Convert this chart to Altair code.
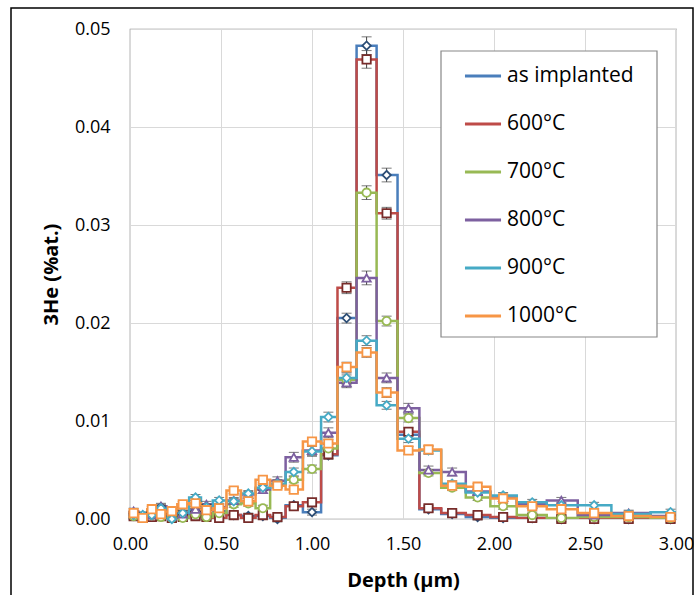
import altair as alt
import pandas as pd

# ---- data ----
series = ["as implanted", "600°C", "700°C", "800°C", "900°C", "1000°C"]

edges = [0.0, 0.045, 0.095, 0.145, 0.20, 0.26, 0.325, 0.39, 0.455, 0.53,
         0.61, 0.69, 0.77, 0.855, 0.95, 1.05, 1.14, 1.245, 1.355, 1.47,
         1.59, 1.71, 1.845, 1.98, 2.125, 2.29, 2.46, 2.645, 2.86, 3.0]

depth = [0.02, 0.07, 0.12, 0.17, 0.23, 0.29, 0.36, 0.42, 0.49, 0.57,
         0.65, 0.73, 0.81, 0.90, 1.00, 1.09, 1.19, 1.30, 1.41, 1.53,
         1.64, 1.77, 1.91, 2.05, 2.21, 2.37, 2.55, 2.74, 2.97]

as_implanted = [0.0005, 0.0003, 0.0006, 0.0012, 0.0003, 0.0006, 0.0008, 0.0012, 0.0008, 0.0004,
                0.0003, 0.0003, 0.0000, 0.0014, 0.0007, 0.0065, 0.0205, 0.0483, 0.0351, 0.0086,
                0.0010, 0.0005, 0.0002, 0.0001, 0.0001, 0.0000, 0.0000, 0.0000, 0.0000]
t600 = [0.0003, 0.0001, 0.0002, 0.0003, 0.0001, 0.0002, 0.0003, 0.0002, 0.0001, 0.0004,
        0.0001, 0.0004, 0.0002, 0.0013, 0.0017, 0.0066, 0.0236, 0.0469, 0.0312, 0.0089,
        0.0011, 0.0006, 0.0004, 0.0002, 0.0001, 0.0000, 0.0000, 0.0000, 0.0000]
t700 = [0.0003, 0.0002, 0.0004, 0.0002, 0.0001, 0.0001, 0.0005, 0.0002, 0.0006, 0.0015,
        0.0016, 0.0011, 0.0035, 0.0040, 0.0051, 0.0072, 0.0142, 0.0333, 0.0202, 0.0103,
        0.0047, 0.0032, 0.0022, 0.0013, 0.0004, 0.0001, 0.0002, 0.0002, 0.0001]
t800 = [0.0008, 0.0004, 0.0004, 0.0013, 0.0003, 0.0005, 0.0010, 0.0015, 0.0012, 0.0019,
        0.0025, 0.0030, 0.0039, 0.0063, 0.0070, 0.0088, 0.0139, 0.0246, 0.0144, 0.0113,
        0.0050, 0.0048, 0.0028, 0.0022, 0.0015, 0.0019, 0.0004, 0.0006, 0.0003]
t900 = [0.0004, 0.0004, 0.0004, 0.0011, 0.0000, 0.0006, 0.0022, 0.0012, 0.0019, 0.0018,
        0.0026, 0.0032, 0.0036, 0.0048, 0.0069, 0.0104, 0.0144, 0.0182, 0.0116, 0.0082,
        0.0070, 0.0036, 0.0027, 0.0024, 0.0017, 0.0014, 0.0014, 0.0005, 0.0007]
t1000 = [0.0006, 0.0001, 0.0010, 0.0005, 0.0008, 0.0015, 0.0016, 0.0009, 0.0011, 0.0029,
         0.0018, 0.0040, 0.0034, 0.0030, 0.0079, 0.0077, 0.0155, 0.0170, 0.0129, 0.0070,
         0.0071, 0.0034, 0.0033, 0.0021, 0.0013, 0.0010, 0.0006, 0.0003, 0.0002]

err_as_implanted = [0.0003, 0.0003, 0.0003, 0.0003, 0.0003, 0.0003, 0.0003, 0.0003, 0.0003, 0.0003,
                    0.0003, 0.0003, 0.0003, 0.0003, 0.0003, 0.0004, 0.0005, 0.0009, 0.0007, 0.0004,
                    0.0003, 0.0003, 0.0003, 0.0003, 0.0003, 0.0003, 0.0003, 0.0003, 0.0003]
err_600 = [0.0003, 0.0003, 0.0003, 0.0003, 0.0003, 0.0003, 0.0003, 0.0003, 0.0003, 0.0003,
           0.0003, 0.0003, 0.0003, 0.0003, 0.0003, 0.0004, 0.0006, 0.0009, 0.0006, 0.0004,
           0.0003, 0.0003, 0.0003, 0.0003, 0.0003, 0.0003, 0.0003, 0.0003, 0.0003]
err_700 = [0.0003, 0.0003, 0.0003, 0.0003, 0.0003, 0.0003, 0.0003, 0.0003, 0.0003, 0.0003,
           0.0003, 0.0003, 0.0003, 0.0003, 0.0004, 0.0004, 0.0005, 0.0007, 0.0005, 0.0004,
           0.0003, 0.0003, 0.0003, 0.0003, 0.0003, 0.0003, 0.0003, 0.0003, 0.0003]
err_800 = [0.0003, 0.0003, 0.0003, 0.0003, 0.0003, 0.0003, 0.0003, 0.0003, 0.0003, 0.0003,
           0.0003, 0.0004, 0.0004, 0.0005, 0.0005, 0.0005, 0.0005, 0.0007, 0.0005, 0.0005,
           0.0004, 0.0004, 0.0003, 0.0003, 0.0003, 0.0003, 0.0003, 0.0003, 0.0003]
err_900 = [0.0003, 0.0003, 0.0003, 0.0003, 0.0003, 0.0003, 0.0003, 0.0003, 0.0003, 0.0003,
           0.0003, 0.0003, 0.0004, 0.0004, 0.0005, 0.0005, 0.0005, 0.0005, 0.0004, 0.0004,
           0.0004, 0.0003, 0.0003, 0.0003, 0.0003, 0.0003, 0.0003, 0.0003, 0.0003]
err_1000 = [0.0003, 0.0003, 0.0003, 0.0003, 0.0003, 0.0003, 0.0003, 0.0003, 0.0003, 0.0003,
            0.0003, 0.0003, 0.0003, 0.0003, 0.0004, 0.0004, 0.0005, 0.0005, 0.0005, 0.0004,
            0.0004, 0.0003, 0.0003, 0.0003, 0.0003, 0.0003, 0.0003, 0.0003, 0.0003]

values = [as_implanted, t600, t700, t800, t900, t1000]
errors = [err_as_implanted, err_600, err_700, err_800, err_900, err_1000]

line_colors = ["#4A7EBB", "#BE4B48", "#98B954", "#7D60A0", "#46AAC5", "#F79646"]
marker_colors = ["#2C4D75", "#772C2A", "#98B954", "#7D60A0", "#46AAC5", "#F79646"]
shapes = ["diamond", "square", "circle", "triangle-up", "diamond", "square"]

# ---- tables built from the arrays ----
step_rows, pt_rows = [], []
for s, vals, errs in zip(series, values, errors):
    k = 0
    for i, v in enumerate(vals):
        step_rows.append({"series": s, "x": edges[i], "y": v, "k": k}); k += 1
        step_rows.append({"series": s, "x": edges[i + 1], "y": v, "k": k}); k += 1
        pt_rows.append({"series": s, "x": depth[i], "y": v,
                        "lo": v - errs[i], "hi": v + errs[i]})
steps = pd.DataFrame(step_rows)
pts = pd.DataFrame(pt_rows)

FONT = "Open Sans"

xscale = alt.Scale(domain=[0, 3], nice=False, padding=0, zero=False)
yscale = alt.Scale(domain=[0, 0.05], nice=False, padding=0)

xaxis = alt.Axis(title="Depth (µm)", values=[0, 0.5, 1, 1.5, 2, 2.5, 3], format=".2f",
                 grid=True, gridColor="#D9D9D9", domain=False, ticks=False, labelFlush=False,
                 labelFontSize=18, labelColor="#000000", labelPadding=16, labelFont=FONT,
                 titleFont=FONT, titleFontSize=20, titleFontWeight="bold", titleColor="#000000",
                 titlePadding=17)
yaxis = alt.Axis(title="3He (%at.)", values=[0, 0.01, 0.02, 0.03, 0.04, 0.05], format=".2f",
                 grid=True, gridColor="#D9D9D9", domain=False, ticks=False, labelFlush=False,
                 labelFontSize=18, labelColor="#000000", labelPadding=20, labelFont=FONT,
                 titleFont=FONT, titleFontSize=20, titleFontWeight="bold", titleColor="#000000",
                 titlePadding=13)

color_scale = alt.Scale(domain=series, range=line_colors)

lines = alt.Chart(steps).mark_line(strokeWidth=2.5, clip=True).encode(
    x=alt.X("x:Q", scale=xscale, axis=xaxis),
    y=alt.Y("y:Q", scale=yscale, axis=yaxis),
    color=alt.Color("series:N", scale=color_scale, sort=series,
                    legend=alt.Legend(title=None, orient="none", legendX=333, legendY=27,
                                      symbolType="stroke", symbolSize=1300, symbolStrokeWidth=3,
                                      labelFontSize=21, labelFont=FONT, labelColor="#000000",
                                      rowPadding=18, padding=0, labelOffset=4,
                                      symbolOffset=0)),
    detail="series:N",
    order="k:Q",
)

err_rules = alt.Chart(pts).mark_rule(color="#404040", strokeWidth=1).encode(
    x="x:Q", y="lo:Q", y2="hi:Q")
err_lo = alt.Chart(pts).mark_tick(color="#404040", thickness=1, size=10, orient="horizontal").encode(
    x="x:Q", y="lo:Q")
err_hi = alt.Chart(pts).mark_tick(color="#404040", thickness=1, size=10, orient="horizontal").encode(
    x="x:Q", y="hi:Q")

points = alt.Chart(pts).mark_point(filled=False, fill="#FFFFFF", fillOpacity=1,
                                   strokeWidth=1.8, size=70, opacity=1).encode(
    x="x:Q", y="y:Q",
    shape=alt.Shape("series:N", scale=alt.Scale(domain=series, range=shapes), legend=None),
    stroke=alt.Stroke("series:N", scale=alt.Scale(domain=series, range=marker_colors), legend=None),
)

one = pd.DataFrame({"a": [0]})
legend_box = alt.Chart(one).mark_rect(
    fill="#FFFFFF", stroke="#888888", strokeWidth=1.2, clip=False).encode(
    x=alt.value(311), x2=alt.value(527), y=alt.value(22), y2=alt.value(308))

frame = alt.Chart(one).mark_rect(
    fill=None, stroke="#000000", strokeWidth=1.5, clip=False).encode(
    x=alt.value(-119), x2=alt.value(563), y=alt.value(-21), y2=alt.value(580))

chart = alt.layer(lines, err_rules, err_lo, err_hi, points, legend_box, frame).resolve_scale(
    color="independent", shape="independent", stroke="independent"
).properties(
    width=546, height=490,
    autosize=alt.AutoSizeParams(type="none"),
    padding={"left": 130, "top": 29, "right": 19, "bottom": 76},
    background="#FFFFFF",
).configure_view(stroke="#868686", strokeWidth=1.2)

chart.save("out.html", embed_options={"renderer": "svg", "actions": False})
